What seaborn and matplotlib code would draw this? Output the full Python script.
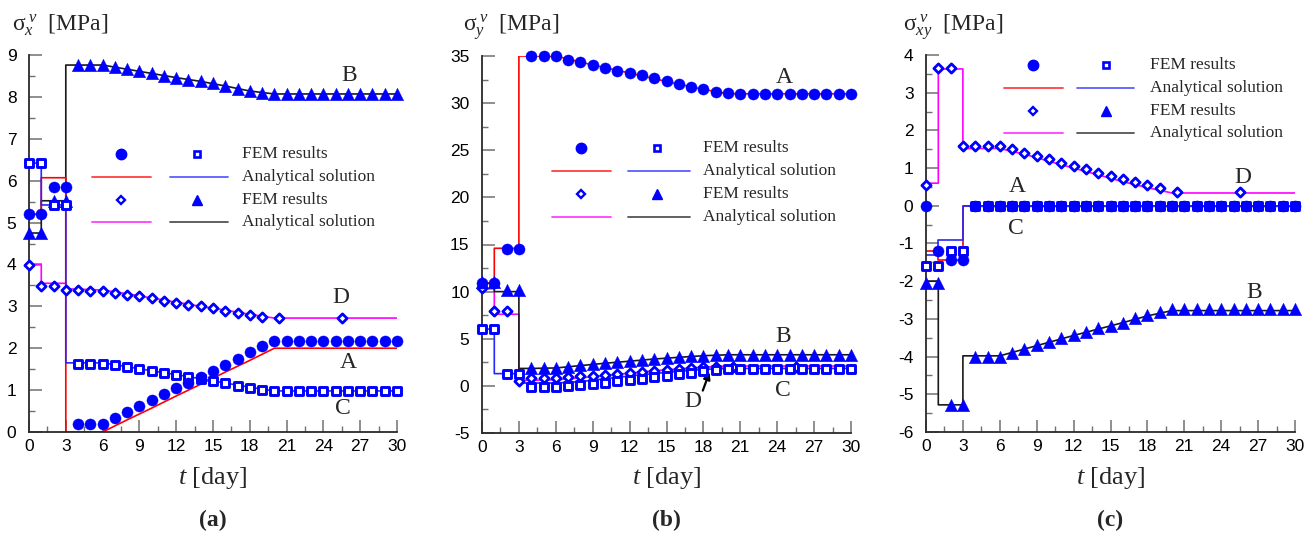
import matplotlib
matplotlib.use("Agg")
import matplotlib.pyplot as plt
from matplotlib.ticker import MultipleLocator
import pandas as pd
import seaborn as sns

# ---------------------------------------------------------------- data
days = list(range(31))                       # FEM output days
days_d = list(range(20)) + [20.4, 25.5]      # FEM output days, point D
t_line = [0, 1, 1, 3, 3, 4, 6, 8, 10, 12, 14, 16, 18, 20, 30]

# (a) sigma_x
a_A_fem = [5.2, 5.2, 5.85, 5.85, 0.18, 0.18, 0.18, 0.33, 0.47, 0.62, 0.76, 0.91, 1.05, 1.18,
           1.31, 1.46, 1.61, 1.74, 1.9, 2.05, 2.17, 2.17, 2.17, 2.17, 2.17, 2.17, 2.17, 2.17,
           2.17, 2.17, 2.17]
a_A_ana = [5.2, 5.2, 6.07, 6.07, 0, 0, 0, 0.29, 0.57, 0.86, 1.14, 1.43, 1.71, 2.0, 2.0]
a_B_fem = [4.75, 4.75, 5.52, 5.52, 8.76, 8.76, 8.76, 8.71, 8.66, 8.61, 8.56, 8.51, 8.46, 8.41,
           8.37, 8.32, 8.26, 8.2, 8.14, 8.1, 8.07, 8.07, 8.07, 8.07, 8.07, 8.07, 8.07, 8.07,
           8.07, 8.07, 8.07]
a_B_ana = [4.75, 4.75, 5.52, 5.52, 8.76, 8.76, 8.76, 8.66, 8.56, 8.46, 8.37, 8.26, 8.14, 8.07, 8.07]
a_C_fem = [6.42, 6.42, 5.42, 5.42, 1.63, 1.63, 1.63, 1.6, 1.55, 1.5, 1.45, 1.4, 1.36, 1.31,
           1.27, 1.22, 1.16, 1.11, 1.06, 1.01, 0.98, 0.98, 0.98, 0.98, 0.98, 0.98, 0.98, 0.98,
           0.98, 0.98, 0.98]
a_C_ana = [6.42, 6.42, 5.42, 5.42, 1.65, 1.65, 1.65, 1.56, 1.46, 1.37, 1.27, 1.17, 1.07, 0.98, 0.98]
a_D_fem = [3.99, 3.48, 3.48, 3.39, 3.39, 3.37, 3.37, 3.33, 3.28, 3.24, 3.2, 3.13, 3.08, 3.04,
           3.0, 2.95, 2.9, 2.85, 2.79, 2.74, 2.71, 2.72]
a_D_ana = [3.99, 3.99, 3.55, 3.55, 3.42, 3.41, 3.39, 3.3, 3.2, 3.1, 3.0, 2.91, 2.81, 2.72, 2.72]

# (b) sigma_y
b_A_fem = [10.9, 10.9, 14.5, 14.5, 35.0, 35.0, 34.95, 34.6, 34.33, 34.05, 33.76, 33.45, 33.2,
           32.95, 32.65, 32.35, 32.05, 31.75, 31.45, 31.2, 31.05, 31.0, 31.0, 31.0, 31.0, 31.0,
           31.0, 31.0, 31.0, 31.0, 31.0]
b_A_ana = [10.9, 10.9, 14.6, 14.6, 35.0, 35.0, 35.0, 34.35, 33.75, 33.2, 32.6, 32.0, 31.45, 31.0, 31.0]
b_B_fem = [11.05, 11.05, 10.15, 10.15, 1.87, 1.87, 1.93, 2.05, 2.18, 2.3, 2.4, 2.5, 2.62, 2.73,
           2.85, 2.95, 3.03, 3.12, 3.2, 3.27, 3.3, 3.3, 3.3, 3.3, 3.3, 3.3, 3.3, 3.3, 3.3, 3.3, 3.3]
b_B_ana = [10.9, 10.9, 10.0, 10.0, 1.85, 1.85, 1.9, 2.15, 2.4, 2.62, 2.85, 3.03, 3.2, 3.3, 3.3]
b_C_fem = [6.03, 6.03, 1.3, 1.3, -0.09, -0.09, -0.09, 0.0, 0.1, 0.22, 0.34, 0.48, 0.62, 0.78,
           0.95, 1.1, 1.25, 1.4, 1.55, 1.7, 1.8, 1.8, 1.8, 1.8, 1.8, 1.8, 1.8, 1.8, 1.8, 1.8, 1.8]
b_C_ana = [6.03, 6.03, 1.3, 1.3, 0.3, 0.3, 0.3, 0.45, 0.75, 1.05, 1.3, 1.55, 1.75, 1.85, 1.85]
b_D_fem = [10.35, 7.95, 7.95, 0.5, 0.85, 0.85, 0.85, 0.9, 1.0, 1.1, 1.2, 1.3, 1.4, 1.5, 1.6,
           1.7, 1.8, 1.9, 1.95, 2.0, 2.05, 2.05]
b_D_ana = [10.3, 10.3, 7.6, 7.6, 0.6, 0.6, 0.65, 0.85, 1.1, 1.35, 1.6, 1.8, 2.0, 2.1, 2.1]

# (c) sigma_xy
c_A_fem = [0.0, -1.19, -1.45, -1.45] + [0.0] * 27
c_A_ana = [-1.2, -1.2, -1.45, -1.45, 0, 0, 0, 0, 0, 0, 0, 0, 0, 0, 0]
c_B_fem = [-2.05, -2.05, -5.28, -5.28, -4.0, -4.0, -4.0, -3.9, -3.8, -3.69, -3.6, -3.5, -3.42,
           -3.35, -3.25, -3.18, -3.1, -2.98, -2.9, -2.82, -2.75, -2.75, -2.75, -2.75, -2.75,
           -2.75, -2.75, -2.75, -2.75, -2.75, -2.75]
c_B_ana = [-2.0, -2.0, -5.28, -5.28, -3.98, -3.98, -3.98, -3.8, -3.62, -3.44, -3.27, -3.1, -2.92,
           -2.78, -2.78]
c_C_fem = [-1.59, -1.59, -1.19, -1.19] + [0.0] * 27
c_C_ana = [-1.31, -1.31, -0.91, -0.91, 0, 0, 0, 0, 0, 0, 0, 0, 0, 0, 0]
c_D_fem = [0.55, 3.65, 3.65, 1.59, 1.59, 1.59, 1.58, 1.5, 1.4, 1.32, 1.24, 1.14, 1.06, 0.98,
           0.87, 0.79, 0.72, 0.62, 0.55, 0.47, 0.37, 0.37]
c_D_ana = [0.6, 0.6, 3.63, 3.63, 1.52, 1.52, 1.52, 1.37, 1.18, 1.0, 0.82, 0.64, 0.48, 0.34, 0.34]

panel_tags = ["(a)", "(b)", "(c)"]
y_subscripts = ["x", "y", "xy"]
series_names = ["FEM results", "Analytical solution", "FEM results", "Analytical solution"]

# ---------------------------------------------------------------- style
sns.set_style("ticks")
plt.rcParams["font.family"] = ["Liberation Sans", "DejaVu Sans"]
plt.rcParams["mathtext.fontset"] = "custom"
plt.rcParams["mathtext.rm"] = "Liberation Serif"
plt.rcParams["mathtext.it"] = "Liberation Serif:italic"
plt.rcParams["mathtext.bf"] = "Liberation Serif:bold"
plt.rcParams["axes.unicode_minus"] = False

SERIF = "Liberation Serif"
MK = "#0000ff"
COL = {"A": "#ff0000", "C": "#2626ff", "D": "#ff00ff", "B": "#1a1a1a"}
W, H = 1315, 542

fig = plt.figure(figsize=(W / 100, H / 100), dpi=100)

# axes boxes in pixels: left, top, right, bottom
boxes = [(29, 55, 397, 432), (482, 56, 851, 433), (926, 55, 1295, 432)]
ylims = [(0, 9), (-5, 35), (-6, 4)]
ymaj = [1, 5, 1]


def px_axes(b):
    l, t, r, bt = b
    return [l / W, 1 - bt / H, (r - l) / W, (bt - t) / H]


def draw_line(ax, vals, color):
    df = pd.DataFrame({"t": t_line, "v": vals})
    sns.lineplot(data=df, x="t", y="v", ax=ax, color=color, lw=1.2,
                 estimator=None, sort=False, zorder=2)


def draw_points(ax, tt, vals, kind):
    df = pd.DataFrame({"t": tt, "v": vals})
    common = dict(data=df, x="t", y="v", ax=ax, clip_on=False, zorder=4, legend=False)
    if kind == "o":
        sns.scatterplot(marker="o", s=64, color=MK, edgecolor=MK, linewidth=0.3, **common)
    elif kind == "^":
        sns.scatterplot(marker="^", s=80, color=MK, edgecolor=MK, linewidth=0.3, **common)
    elif kind == "s":
        sns.scatterplot(marker="s", s=26, color="white", edgecolor=MK, linewidth=2.1, **common)
    elif kind == "D":
        sns.scatterplot(marker="D", s=22, color="white", edgecolor=MK, linewidth=2.0, **common)


def key_block(ax, col1, col2, xtext, rows):
    (m1, l1), (m2, l2) = col1, col2
    styles = [
        dict(marker="o", ms=7.5, mfc=MK, mec=MK, ls="none"),
        dict(marker="s", ms=4.8, mfc="white", mec=MK, mew=1.9, ls="none"),
        dict(marker="D", ms=3.8, mfc="white", mec=MK, mew=1.7, ls="none"),
        dict(marker="^", ms=6.5, mfc=MK, mec=MK, ls="none"),
    ]
    tr = ax.transAxes
    ax.plot([m1], [rows[0]], transform=tr, clip_on=False, **styles[0])
    ax.plot([m2], [rows[0]], transform=tr, clip_on=False, **styles[1])
    ax.plot(l1, [rows[1]] * 2, transform=tr, color=COL["A"], lw=1.3, alpha=0.75, clip_on=False)
    ax.plot(l2, [rows[1]] * 2, transform=tr, color=COL["C"], lw=1.3, alpha=0.75, clip_on=False)
    ax.plot([m1], [rows[2]], transform=tr, clip_on=False, **styles[2])
    ax.plot([m2], [rows[2]], transform=tr, clip_on=False, **styles[3])
    ax.plot(l1, [rows[3]] * 2, transform=tr, color=COL["D"], lw=1.3, alpha=0.75, clip_on=False)
    ax.plot(l2, [rows[3]] * 2, transform=tr, color=COL["B"], lw=1.3, alpha=0.75, clip_on=False)
    for r, name in zip(rows, series_names):
        ax.text(xtext, r, name, transform=tr, family=SERIF, fontsize=12.5,
                va="center", ha="left")


axes = []
for i, b in enumerate(boxes):
    ax = fig.add_axes(px_axes(b))
    axes.append(ax)

datasets = [
    (a_A_fem, a_A_ana, a_B_fem, a_B_ana, a_C_fem, a_C_ana, a_D_fem, a_D_ana),
    (b_A_fem, b_A_ana, b_B_fem, b_B_ana, b_C_fem, b_C_ana, b_D_fem, b_D_ana),
    (c_A_fem, c_A_ana, c_B_fem, c_B_ana, c_C_fem, c_C_ana, c_D_fem, c_D_ana),
]

for ax, ds in zip(axes, datasets):
    A_f, A_a, B_f, B_a, C_f, C_a, D_f, D_a = ds
    draw_line(ax, D_a, COL["D"])
    draw_line(ax, B_a, COL["B"])
    draw_line(ax, A_a, COL["A"])
    draw_line(ax, C_a, COL["C"])
    draw_points(ax, days_d, D_f, "D")
    draw_points(ax, days, B_f, "^")
    draw_points(ax, days, C_f, "s")
    draw_points(ax, days, A_f, "o")

for ax, yl, ym in zip(axes, ylims, ymaj):
    ax.set_xlim(0, 30)
    ax.set_ylim(*yl)
    ax.xaxis.set_major_locator(MultipleLocator(3))
    ax.xaxis.set_minor_locator(MultipleLocator(1.5))
    ax.yaxis.set_major_locator(MultipleLocator(ym))
    ax.yaxis.set_minor_locator(MultipleLocator(ym / 2))
    ax.set_xlabel("")
    ax.set_ylabel("")
    for s in ("top", "right"):
        ax.spines[s].set_visible(False)
    for s in ("left", "bottom"):
        ax.spines[s].set_linewidth(1.3)
        ax.spines[s].set_color("#2a2a2a")
    ax.tick_params(which="major", direction="in", length=9, width=1.1, color="#707070",
                   labelsize=12.5, labelcolor="black")
    ax.tick_params(which="minor", direction="in", length=4.5, width=1.0, color="#707070")
    ax.tick_params(axis="y", which="major", pad=9)
    ax.tick_params(axis="x", which="major", pad=5)
    ax.set_facecolor("none")

# legends
key_block(axes[0], (0.25, (0.171, 0.332)), (0.457, (0.383, 0.541)), 0.579,
          [0.737, 0.676, 0.615, 0.557])
key_block(axes[1], (0.268, (0.19, 0.35)), (0.474, (0.396, 0.564)), 0.599,
          [0.756, 0.695, 0.634, 0.573])
key_block(axes[2], (0.29, (0.212, 0.372)), (0.488, (0.409, 0.564)), 0.607,
          [0.973, 0.912, 0.851, 0.793])

# point labels
lab_kw = dict(family=SERIF, fontsize=17, ha="center", va="center")
for ax, items in zip(axes, [
    [("B", 26.1, 8.52), ("D", 25.4, 3.2), ("A", 26.0, 1.65), ("C", 25.6, 0.57)],
    [("A", 24.6, 32.7), ("B", 24.5, 5.2), ("C", 24.5, -0.44), ("D", 17.15, -1.7)],
    [("A", 7.4, 0.5), ("C", 7.3, -0.59), ("D", 25.8, 0.76), ("B", 26.7, -2.29)],
]):
    for s, x, y in items:
        ax.text(x, y, s, **lab_kw)

# arrow from label D to its curve in (b)
axes[1].annotate("", xy=(18.5, 1.45), xytext=(17.95, -0.5), textcoords="data",
                 arrowprops=dict(arrowstyle="-|>", color="black", lw=1.6,
                                 shrinkA=0, shrinkB=0, mutation_scale=10))

# axis titles and panel tags
ylab_x = [12, 463, 903]
for i, b in enumerate(boxes):
    l, t, r, bt = b
    xc = (l + r) / 2
    fig.text(ylab_x[i] / W, 1 - 30 / H,
             r"$\mathrm{\sigma}_{%s}^{\;v}$  [MPa]" % y_subscripts[i],
             family=SERIF, fontsize=17, ha="left", va="baseline")
    fig.text(xc / W, 1 - 478 / H, r"$t$ [day]", family=SERIF, fontsize=19,
             ha="center", va="center")
    fig.text(xc / W, 1 - 520 / H, panel_tags[i], family=SERIF, fontsize=17,
             fontweight="bold", ha="center", va="center")

fig.savefig("out.png", dpi=100)
